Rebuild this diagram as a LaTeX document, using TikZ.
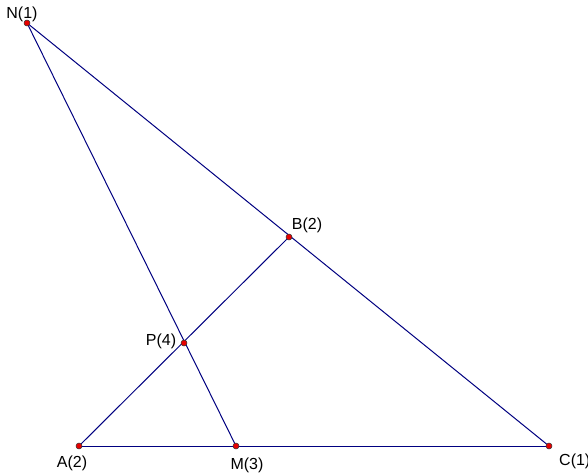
\documentclass[tikz,border=0pt]{standalone}
\usepackage{fontspec}
\setmainfont{Liberation Sans}
\definecolor{seg}{RGB}{0,0,128}
\definecolor{pt}{RGB}{230,0,0}
\begin{document}
\begin{tikzpicture}[x=1pt,y=-1pt,
  seg/.style={draw=seg,line width=1pt},
  dot/.style={circle,fill=pt,draw=black!80,line width=0.5pt,inner sep=0pt,minimum size=6pt},
  lbl/.style={font=\fontsize{16}{16}\selectfont,inner sep=0pt}]
\useasboundingbox (0,0) rectangle (588,474);
\coordinate (N) at (27,23);
\coordinate (B) at (289,237);
\coordinate (P) at (184,343);
\coordinate (A) at (79,446);
\coordinate (M) at (236,446);
\coordinate (C) at (549,446);
\draw[seg] (N) -- (C);
\draw[seg] (N) -- (M);
\draw[seg] (A) -- (C);
\draw[seg] (A) -- (B);
\foreach \p in {N,B,P,A,M,C} \node[dot] (d\p) at (\p) {};
\node[lbl] (lN) at (22,14) {N(1)};
\node[lbl] (lB) at (307,225) {B(2)};
\node[lbl] (lP) at (161,341) {P(4)};
\node[lbl] (lA) at (72,463) {A(2)};
\node[lbl] (lM) at (247,465) {M(3)};
\node[lbl,anchor=west] (lC) at (559,461) {C(1)};
\end{tikzpicture}
\end{document}
